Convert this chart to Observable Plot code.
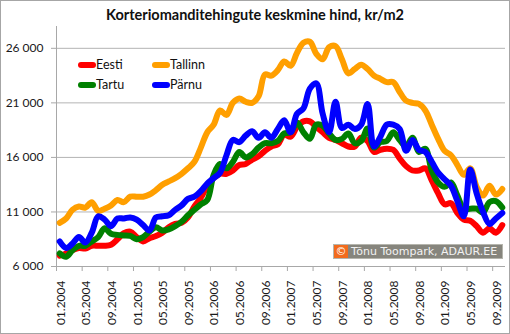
<!DOCTYPE html>
<html><head><meta charset="utf-8">
<script src="https://cdn.jsdelivr.net/npm/d3@7"></script>
<script src="https://cdn.jsdelivr.net/npm/@observablehq/plot@0.6"></script>
<style>
body{margin:0;background:#fff;}
#wrap{position:relative;width:510px;height:334px;font-family:Lato,sans-serif;background:#fff;}
#wrap svg{position:absolute;left:0;top:0;}
#frame{position:absolute;left:0;top:0;width:510px;height:334px;box-sizing:border-box;border:1px solid #a6a6a6;pointer-events:none;}
#title{position:absolute;left:0;width:510px;top:6px;text-align:center;font-weight:bold;font-size:14.5px;color:#111;}
.leg{position:absolute;font-size:12.5px;color:#111;line-height:14px;}
.leg span.sw{position:absolute;height:6px;border-radius:3px;}
#wm{position:absolute;left:333px;top:244px;width:170px;height:15px;box-sizing:border-box;background:#86857d;border:1px solid #b5b5ad;font-family:"DejaVu Sans",sans-serif;font-size:11px;color:#f2f2f2;line-height:13px;white-space:nowrap;}
#wm .c{display:inline-block;background:#f26b1d;color:#fff;width:14px;height:13px;text-align:center;margin-right:3px;}
</style></head>
<body>
<div id="wrap"></div>
<script>
const seriesNames = ["Eesti", "Tallinn", "Tartu", "Pärnu"];
const seriesColors = ["#ff0000", "#ff9f00", "#008000", "#0000ff"];
const tickLabels = ["01.2004","05.2004","09.2004","01.2005","05.2005","09.2005","01.2006","05.2006","09.2006","01.2007","05.2007","09.2007","01.2008","05.2008","09.2008","01.2009","05.2009","09.2009"];
const yTicks = [6000, 11000, 16000, 21000, 26000];
// monthly values 01.2004 .. 10.2009
const eesti = [7000,7200,7500,7700,7650,7900,7900,7900,8000,8500,9050,9200,8700,8300,8600,8800,9100,9600,9900,10000,10500,11500,12300,13400,14100,14500,14500,14800,15300,15400,15800,16100,16600,17000,17200,18100,17900,18800,19300,19300,18800,18300,17800,17600,17300,17000,17000,17800,17500,16500,16700,16800,16700,15900,15200,14800,14800,15000,13900,12700,11700,11800,10900,10300,10200,9700,9100,9500,9100,9800];
const tallinn = [10000,10400,11200,11500,11400,11900,11100,11300,11600,12100,11900,12400,12400,12400,12600,13000,13500,13800,14100,14500,15000,15600,16900,18300,19000,20300,19900,21000,21400,21100,21000,21600,23600,23500,24000,24800,24400,25600,26500,26600,25500,25000,26100,26200,25000,23700,24100,24500,24100,23500,23200,22900,22900,22000,21200,21000,20900,20300,19000,17700,16600,16200,15300,14400,15000,13300,12500,13400,12600,13100];
const tartu = [7200,6900,7500,7900,7900,8300,8700,9500,9000,8900,8850,8800,8500,8700,9200,9600,9300,9400,9700,10100,10700,11200,11700,12100,14400,15400,15000,15600,16500,16000,16300,16900,17300,17300,17500,18200,18300,19200,18300,17700,19000,18900,18200,17600,17700,18200,17300,17500,18650,16900,17400,17500,18300,17600,17000,17800,16500,16800,14800,13700,13300,13700,12500,11300,11300,11300,10950,11900,12000,11400];
const parnu = [8300,7700,8100,8700,8200,9100,10600,10300,9700,10400,10400,10500,10300,9800,9300,10500,10600,10700,11200,11600,12200,12400,12900,13600,14100,14600,16200,17600,17400,18000,18400,17800,18300,17800,18600,19400,18300,20000,20500,22300,22800,20000,18300,21100,18700,19000,18600,19000,20900,17000,17900,19000,19000,18600,16600,17600,16700,16500,15600,14600,14000,13400,12000,10600,14900,12700,11000,9900,10400,10900];

const allSeries = [eesti, tallinn, tartu, parnu];
const data = [];
allSeries.forEach((arr, s) => arr.forEach((v, i) => data.push({s: seriesNames[s], i, v})));
const labelPos = tickLabels.map((_, k) => k * 4);
const boundaries = d3.range(0, 19).map(k => k * 4 - 0.5);

const chart = Plot.plot({
  width: 510, height: 334,
  marginLeft: 56, marginRight: 5, marginTop: 26, marginBottom: 68,
  style: {fontFamily: "Lato, sans-serif", fontSize: "12px", color: "#1a1a1a", background: "transparent", overflow: "visible"},
  x: {domain: [-0.5, 69.5]},
  y: {domain: [6000, 28000]},
  color: {domain: seriesNames, range: seriesColors},
  marks: [
    Plot.gridY(yTicks, {stroke: "#b4b4b4", strokeOpacity: 1}),
    Plot.ruleX([-0.5], {stroke: "#a8a8a8"}),
    Plot.ruleY([6000], {stroke: "#a8a8a8"}),
    Plot.axisY(yTicks, {tickSize: 5, tickPadding: 8, stroke: "#a8a8a8", tickFormat: d => d3.format(",")(d).replace(",", " "), label: null}),
    Plot.axisX(boundaries.filter(b => b <= 69.5), {tickSize: 5, tickFormat: () => "", stroke: "#a8a8a8", label: null}),
    Plot.axisX(labelPos, {tickSize: 0, tickPadding: 14, tickRotate: -90, dx: 1, tickFormat: d => tickLabels[d / 4], label: null}),
    Plot.line(data, {x: "i", y: "v", z: "s", stroke: "s", strokeWidth: 6, curve: "catmull-rom"})
  ]
});
const wrap = document.getElementById("wrap");
wrap.appendChild(chart);

const title = document.createElement("div");
title.id = "title";
title.textContent = "Korteriomanditehingute keskmine hind, kr/m2";
wrap.appendChild(title);

const legPos = [[78, 58], [152, 58], [78, 78], [152, 78]];
seriesNames.forEach((n, k) => {
  const d = document.createElement("div");
  d.className = "leg";
  d.style.left = legPos[k][0] + "px";
  d.style.top = legPos[k][1] + "px";
  d.innerHTML = `<span class="sw" style="left:0;top:4px;width:18px;background:${seriesColors[k]}"></span><span style="position:absolute;left:18px;top:0">${n}</span>`;
  wrap.appendChild(d);
});

const wm = document.createElement("div");
wm.id = "wm";
wm.innerHTML = '<span class="c">©</span>Tõnu Toompark, ADAUR.EE';
wrap.appendChild(wm);

const fr = document.createElement("div");
fr.id = "frame";
wrap.appendChild(fr);
</script>
</body></html>
